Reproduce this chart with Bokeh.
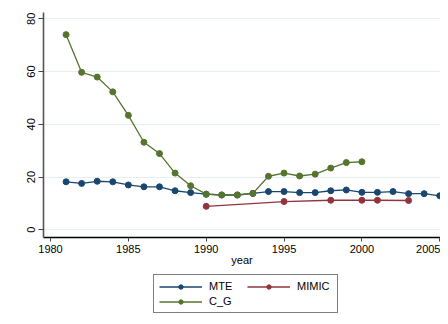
from bokeh.plotting import figure
from bokeh.models import Range1d, FixedTicker, Legend, LegendItem
from bokeh.layouts import column
from bokeh.embed import file_html
from bokeh.resources import INLINE

# data
years_mte = list(range(1981, 2006))
mte = [18.2, 17.6, 18.4, 18.2, 17.0, 16.3, 16.3, 14.8, 14.1, 13.5, 13.2, 13.2, 13.8,
       14.5, 14.5, 14.1, 14.1, 14.8, 15.1, 14.2, 14.2, 14.5, 13.7, 13.7, 12.9]
years_mimic = [1990, 1995, 1998, 2000, 2001, 2003]
mimic = [8.9, 10.7, 11.2, 11.2, 11.2, 11.1]
years_cg = list(range(1981, 2001))
cg = [74.0, 59.7, 57.9, 52.3, 43.4, 33.2, 28.9, 21.5, 16.7, 13.5, 13.2, 13.2, 13.8,
      20.3, 21.5, 20.4, 21.1, 23.4, 25.5, 25.8]
x_ticks = [1980, 1985, 1990, 1995, 2000, 2005]
y_ticks = [0, 20, 40, 60, 80]
series_names = ["MTE", "MIMIC", "C_G"]

FONT = "Liberation Sans"
NAVY = "#1a476f"
MAROON = "#90353b"
GREEN = "#55752f"
series = [(years_mte, mte, NAVY), (years_mimic, mimic, MAROON), (years_cg, cg, GREEN)]

p = figure(width=440, height=270, output_backend="svg", toolbar_location=None,
           x_range=Range1d(1979.55, 2005.05), y_range=Range1d(-2.92, 82.39),
           min_border_left=43, min_border_right=0, min_border_top=12,
           min_border_bottom=33)
p.outline_line_color = None
p.background_fill_color = "white"
p.border_fill_color = "white"

p.xgrid.grid_line_color = None
p.ygrid.grid_line_color = "#e6eef0"
p.ygrid.grid_line_width = 1
p.ygrid.ticker = FixedTicker(ticks=y_ticks)

xa = p.xaxis[0]
xa.ticker = FixedTicker(ticks=x_ticks)
xa.axis_label = "year"
xa.axis_label_text_font = FONT
xa.axis_label_text_font_size = "11px"
xa.axis_label_text_font_style = "normal"
xa.axis_label_text_color = "black"
xa.axis_label_standoff = -2
xa.major_label_text_font = FONT
xa.major_label_text_font_size = "11px"
xa.major_label_text_color = "black"
xa.major_label_standoff = 3
xa.major_tick_out = 4
xa.major_tick_in = 0
xa.minor_tick_out = 0
xa.minor_tick_in = 0
xa.axis_line_color = "black"
xa.axis_line_width = 1.3
xa.major_tick_line_color = "#444444"

ya = p.yaxis[0]
ya.ticker = FixedTicker(ticks=y_ticks)
ya.major_label_orientation = "vertical"
ya.major_label_text_font = FONT
ya.major_label_text_font_size = "11px"
ya.major_label_text_color = "black"
ya.major_label_standoff = 3
ya.major_tick_out = 5
ya.major_tick_in = 0
ya.minor_tick_out = 0
ya.minor_tick_in = 0
ya.axis_line_color = "#555555"
ya.axis_line_width = 1.6
ya.major_tick_line_color = "#444444"

for xs, ys, c in series:
    p.line(xs, ys, line_color=c, line_width=1.3)
    p.scatter(xs, ys, size=6, fill_color=c, line_color=c)

# legend panel below the chart (series drawn outside its visible range)
pl = figure(width=440, height=46, output_backend="svg", toolbar_location=None,
            x_range=Range1d(0, 1), y_range=Range1d(0, 1),
            min_border=0, x_axis_type=None, y_axis_type=None)
pl.outline_line_color = None
pl.xgrid.visible = False
pl.ygrid.visible = False
pl.border_fill_color = "white"

items = {}
for name, (xs, ys, c) in zip(series_names, series):
    lr = pl.line(xs, ys, line_color=c, line_width=1.3)
    sr = pl.scatter(xs, ys, size=6, fill_color=c, line_color=c)
    items[name] = LegendItem(label=name, renderers=[lr, sr])

legend = Legend(items=[items["MTE"], items["C_G"], items["MIMIC"]],
                ncols=2, location=(110, 3))
legend.label_text_font = FONT
legend.label_text_font_size = "11px"
legend.label_text_color = "black"
legend.glyph_width = 43
legend.glyph_height = 11
legend.label_standoff = 7
legend.label_width = 35
legend.label_height = 11
legend.spacing = 3
legend.padding = 5
legend.margin = 0
legend.border_line_color = "black"
legend.border_line_width = 1
legend.background_fill_color = "white"
legend.background_fill_alpha = 1
pl.add_layout(legend, "center")

layout = column(p, pl, spacing=0)
open("out.html", "w").write(file_html(layout, INLINE))
